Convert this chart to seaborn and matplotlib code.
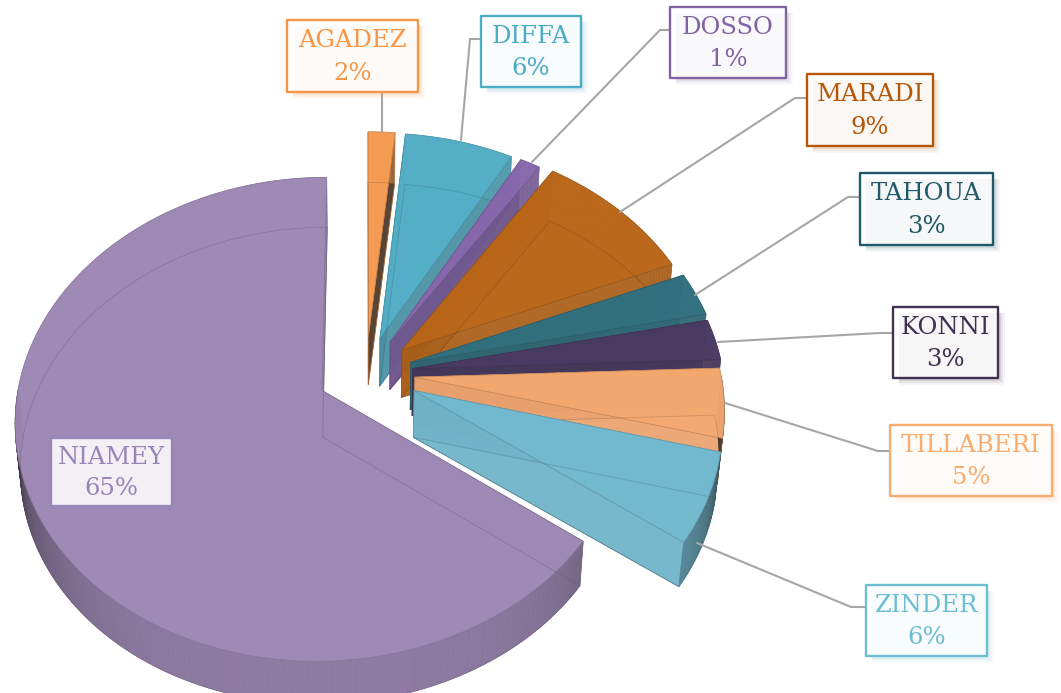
import numpy as np
import matplotlib
matplotlib.use("Agg")
import matplotlib.pyplot as plt
import seaborn as sns
from matplotlib.colors import to_rgb

# ---- data (clockwise from 12 o'clock) ----
regions = ["AGADEZ", "DIFFA", "DOSSO", "MARADI", "TAHOUA", "KONNI", "TILLABERI", "ZINDER", "NIAMEY"]
shares = [1.6, 6.5, 1.2, 9.5, 2.9, 2.7, 4.6, 6.0, 65.0]
percent_labels = [2, 6, 1, 9, 3, 3, 5, 6, 65]

face_hex = ["#F59A50", "#52ADC6", "#8868AD", "#B96618", "#31707F", "#4A3A63", "#F4A870", "#72B9CF", "#9E88B5"]
text_hex = ["#F79646", "#4BACC6", "#8064A2", "#B65708", "#215968", "#403152", "#FAAB6E", "#6DBDD2", "#9A85B8"]
radial_dark = [0.85, 0.22, 0.22, 0.10, 0.12, 0.12, 0.04, 0.04, 0.10]
explode = [0.154, 0.154, 0.154, 0.154, 0.154, 0.154, 0.160, 0.172, 0.160]
radius = [1.0, 1.0, 1.0, 1.015, 1.02, 1.015, 1.0, 0.99, 0.985]

# ---- layout (pixels) ----
W, H = 1061, 693
CX, CY = 366.0, 373.0
RX, B, PERSP = 306.0, 238.0, 0.12
DEPTH, BOTTOM_SCALE = 47.0, 0.985
boxes = {"AGADEZ": (287, 20, 418, 92), "DIFFA": (481, 16, 581, 87), "DOSSO": (670, 7, 786, 78),
         "MARADI": (807, 74, 933, 146), "TAHOUA": (860, 173, 993, 245), "KONNI": (893, 307, 998, 378),
         "TILLABERI": (890, 425, 1052, 496), "ZINDER": (866, 585, 987, 656), "NIAMEY": (51, 438, 172, 506)}
leaders = {"AGADEZ": [(382, 132), (382, 92)], "DIFFA": [(461, 140), (470, 39), (481, 39)],
           "DOSSO": [(532, 162), (660, 30), (670, 30)], "MARADI": [(620, 212), (795, 98), (807, 98)],
           "TAHOUA": [(695, 295), (848, 197), (860, 197)], "KONNI": [(718, 342), (880, 333), (893, 333)],
           "TILLABERI": [(725, 403), (878, 451), (890, 451)], "ZINDER": [(697, 543), (851, 607), (866, 607)]}

sns.set_theme(style="white")
palette = sns.color_palette(face_hex)
text_palette = sns.color_palette(text_hex)
plt.rcParams["font.family"] = ["DejaVu Serif"]

fig = plt.figure(figsize=(W / 100, H / 100), dpi=100)
ax = fig.add_axes([0, 0, 1, 1])
ax.set_xlim(0, W)
ax.set_ylim(H, 0)
ax.axis("off")


def project(X, Y, bottom=False):
    w = 1 - PERSP * np.asarray(Y)
    sx = RX * np.asarray(X) / w
    sy = B * np.asarray(Y) / w
    if bottom:
        return CX + sx * BOTTOM_SCALE, CY + sy * BOTTOM_SCALE + DEPTH
    return CX + sx, CY + sy


def mix(c, k):
    return tuple(v * (1 - k) + 0.1 * k for v in to_rgb(c))


def rim_shade(deg):
    d = abs(deg - 180.0)
    return min(0.12 + 0.72 * (d / 85.0) ** 3, 0.86)


ends = np.cumsum(shares) / np.sum(shares) * 360.0
starts = np.concatenate([[0.0], ends[:-1]])

for name, a0, a1, col, rd, ex, r in zip(regions, starts, ends, palette, radial_dark, explode, radius):
    mid = np.radians((a0 + a1) / 2)
    ox, oy = ex * np.sin(mid), -ex * np.cos(mid)
    ang = np.linspace(a0, a1, max(int((a1 - a0) / 1.0) + 2, 4))
    rad = np.radians(ang)
    X = ox + r * np.sin(rad)
    Y = oy - r * np.cos(rad)
    # bottom face
    bx, by = project(X, Y, True)
    ax0, ay0 = project(np.array([ox]), np.array([oy]), True)
    ax.fill(np.r_[ax0, bx], np.r_[ay0, by], fc=col, ec=mix(col, 0.35), lw=0.6, alpha=0.55, zorder=1)
    # radial walls
    tx, ty = project(X, Y)
    cx0, cy0 = project(np.array([ox]), np.array([oy]))
    for i in (0, -1):
        ax.fill([cx0[0], tx[i], bx[i], ax0[0]], [cy0[0], ty[i], by[i], ay0[0]],
                fc=mix(col, rd), ec=mix(col, 0.3), lw=0.5, alpha=0.85, zorder=1)
    # outer rim, shaded by facing direction
    for j in range(len(ang) - 1):
        m = (ang[j] + ang[j + 1]) / 2
        front = 90 < m < 270
        c = mix(col, rim_shade(m)) if front else mix(col, 0.12)
        ax.fill([tx[j], tx[j + 1], bx[j + 1], bx[j]], [ty[j], ty[j + 1], by[j + 1], by[j]],
                fc=c, ec=c, lw=0.4, alpha=1.0 if front else 0.45, zorder=1)
    # top face
    ax.fill(np.r_[cx0, tx], np.r_[cy0, ty], fc=col, ec=mix(col, 0.2), lw=0.5, alpha=0.96, zorder=1)
    # bottom outline seen through the glassy top
    ax.plot(np.r_[ax0, bx, ax0], np.r_[ay0, by, ay0], color=mix(col, 0.5), lw=0.6, alpha=0.3, zorder=1)

# leader lines
for name, pts in leaders.items():
    ax.plot(*zip(*pts), color="#A6A6A6", lw=1.5, zorder=2, solid_capstyle="round")

# labels
for name, p, tc in zip(regions, percent_labels, text_palette):
    x0, y0, x1, y1 = boxes[name]
    for g, al in ((7, 0.05), (5, 0.08), (3, 0.11), (1, 0.14)):
        ax.fill([x0 + 6, x1 + g, x1 + g, x0 + 6], [y0 + 6, y0 + 6, y1 + g, y1 + g],
                color=tc, alpha=al, lw=0, zorder=3)
    ax.fill([x0, x1, x1, x0], [y0, y0, y1, y1], fc="white", lw=0, zorder=4, alpha=0.88)
    ax.fill([x0, x1, x1, x0], [y0, y0, y1, y1], fc="none", ec=tc, lw=1.7, zorder=4, joinstyle="round")
    xc = (x0 + x1) / 2
    ax.text(xc, y0 + (y1 - y0) * 0.29, name, color=tc, fontsize=17.5, ha="center", va="center", zorder=5)
    ax.text(xc, y0 + (y1 - y0) * 0.74, f"{p}%", color=tc, fontsize=17.5, ha="center", va="center", zorder=5)

fig.savefig("out.png", dpi=100, facecolor="white")
